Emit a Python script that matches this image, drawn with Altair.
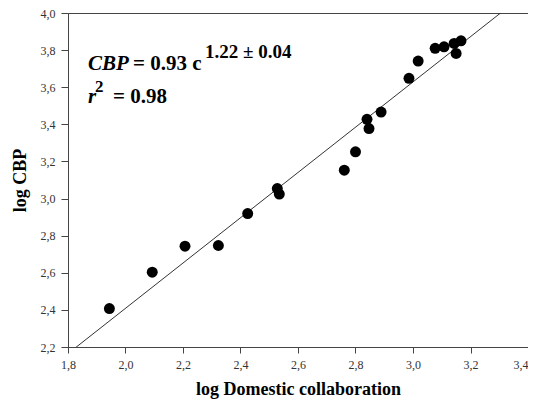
import math
import altair as alt
import pandas as pd

# Data
log_domestic = [1.944, 2.093, 2.207, 2.323, 2.425, 2.528, 2.535, 2.761, 2.800,
                2.840, 2.847, 2.889, 2.986, 3.018, 3.077, 3.108, 3.143, 3.150, 3.167]
log_cbp = [2.407, 2.603, 2.743, 2.747, 2.919, 3.054, 3.024, 3.153, 3.252,
           3.427, 3.377, 3.466, 3.648, 3.741, 3.810, 3.818, 3.836, 3.782, 3.850]

fit_coef = 0.93
fit_exp = 1.22
fit_x_ends = [1.8, 3.4]

x_ticks = [1.8, 2.0, 2.2, 2.4, 2.6, 2.8, 3.0, 3.2, 3.4]
y_ticks = [2.2, 2.4, 2.6, 2.8, 3.0, 3.2, 3.4, 3.6, 3.8, 4.0]

eq_cbp = ["CBP"]
eq_rest = ["= 0.93 c"]
eq_sup = ["1.22 ± 0.04"]
r_var = ["r"]
r_sup = ["2"]
r_rest = ["= 0.98"]

x_title = "log Domestic collaboration"
y_title = "log CBP"

FONT = "Liberation Serif"
AX = "#444444"

pts = pd.DataFrame({"x": log_domestic, "y": log_cbp})
fit = pd.DataFrame({"x": fit_x_ends})

xscale = alt.Scale(domain=[1.8, 3.4], nice=False, zero=False)
yscale = alt.Scale(domain=[2.2, 4.0], nice=False, zero=False)

LBL = "replace(format(datum.value, '.1f'), '.', ',')"

xaxis = alt.Axis(values=x_ticks, labelExpr=LBL, labelOverlap=False, labelFlush=False,
                 labelAlign={"condition": {"test": "datum.value > 3.35", "value": "right"},
                             "value": "center"},
                 grid=False, tickSize=6, labelPadding=6, labelFont=FONT, labelFontSize=12,
                 labelColor="#333333", domainColor=AX, tickColor=AX, title=x_title,
                 titleFont=FONT, titleFontSize=18, titleFontWeight="bold", titleColor="#000000",
                 titleBaseline="alphabetic", titleY=47)
yaxis = alt.Axis(values=y_ticks, labelExpr=LBL, labelOverlap=False, labelFlush=False,
                 tickCount=10, grid=False, tickSize=7, labelPadding=6, labelFont=FONT,
                 labelFontSize=12, labelColor="#333333", domainColor=AX, tickColor=AX,
                 title=y_title, titleFont=FONT, titleFontSize=18, titleFontWeight="bold",
                 titleColor="#000000", titleBaseline="alphabetic", titleX=-43, titleAngle=-90)

points = alt.Chart(pts).mark_circle(size=120, color="black", opacity=1).encode(
    x=alt.X("x:Q", scale=xscale, axis=xaxis),
    y=alt.Y("y:Q", scale=yscale, axis=yaxis),
)

line = alt.Chart(fit).transform_calculate(
    y=f"log({fit_coef})/LN10 + {fit_exp} * datum.x"
).mark_line(color="#333333", strokeWidth=1, clip=True).encode(
    x=alt.X("x:Q", scale=xscale, axis=xaxis),
    y=alt.Y("y:Q", scale=yscale, axis=yaxis),
)


def txt(items, x, y, size, italic=False):
    return alt.Chart(pd.DataFrame({"t": items})).mark_text(
        font=FONT, fontSize=size, fontWeight="bold",
        fontStyle="italic" if italic else "normal",
        align="left", baseline="alphabetic", color="black",
    ).encode(text="t:N", x=alt.value(x), y=alt.value(y))


texts = [
    txt(eq_cbp, 20, 57, 21, italic=True),
    txt(eq_rest, 65, 57, 21),
    txt(eq_sup, 137, 45, 19),
    txt(r_var, 20, 90, 21, italic=True),
    txt(r_sup, 27, 79, 17),
    txt(r_rest, 45, 90, 21),
]

chart = alt.layer(line, points, *texts).properties(
    width=460, height=334,
    autosize=alt.AutoSizeParams(type="none"),
    padding={"left": 60, "top": 5, "right": 0, "bottom": 52},
).configure_view(stroke=AX, strokeWidth=1)

chart.save("out.html", embed_options={"renderer": "svg", "actions": False})
